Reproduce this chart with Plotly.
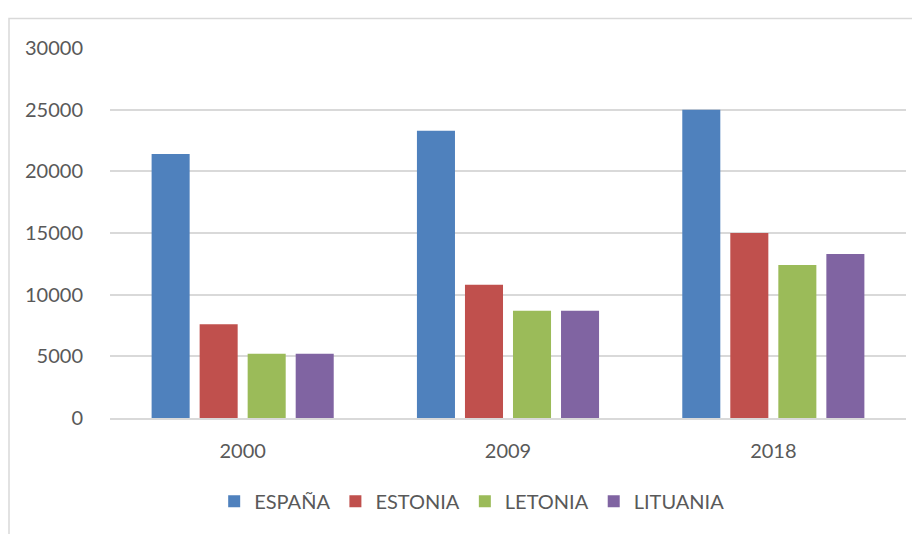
import plotly.graph_objects as go

years = ["2000", "2009", "2018"]
series_names = ["ESPAÑA", "ESTONIA", "LETONIA", "LITUANIA"]
espana = [21400, 23300, 25000]
estonia = [7600, 10800, 15000]
letonia = [5200, 8700, 12400]
lituania = [5200, 8700, 13300]
colors = ["#4F81BD", "#C0504D", "#9BBB59", "#8064A2"]
y_ticks = [0, 5000, 10000, 15000, 20000, 25000, 30000]

fig = go.Figure()
for name, vals, col in zip(series_names, [espana, estonia, letonia, lituania], colors):
    fig.add_trace(go.Bar(
        x=years, y=vals, name=name,
        marker=dict(color=col, line=dict(width=0)),
    ))

font_family = "Lato, 'Open Sans', sans-serif"
fig.update_layout(
    width=920, height=534,
    margin=dict(l=102, r=22, t=40, b=124, pad=0),
    paper_bgcolor="white", plot_bgcolor="white",
    barmode="group", bargap=0.276, bargroupgap=0.208,
    font=dict(family=font_family, size=20, color="#595959"),
    showlegend=True,
    legend=dict(orientation="h", x=0.455, xanchor="center", y=-0.225, yanchor="middle",
                font=dict(size=20, color="#595959"), itemwidth=30,
                traceorder="normal", bgcolor="rgba(0,0,0,0)"),
    xaxis=dict(showgrid=False, showline=True, linecolor="#d9d9d9", linewidth=1.5,
               ticks="outside", ticklen=14, tickcolor="rgba(0,0,0,0)",
               tickfont=dict(size=20, color="#595959"), fixedrange=True),
    yaxis=dict(range=[0, 30000], tickvals=y_ticks, ticktext=[str(v) for v in y_ticks],
               showgrid=True, gridcolor="#d9d9d9", gridwidth=1.5, zeroline=False,
               showline=False, ticks="outside", ticklen=22, tickcolor="rgba(0,0,0,0)",
               tickfont=dict(size=20, color="#595959"), fixedrange=True),
    shapes=[dict(type="rect", xref="paper", yref="paper",
                 x0=(9 - 110) / 796, x1=1.2, y0=-1.0, y1=(418 - 18.5) / 370,
                 line=dict(color="#d9d9d9", width=1.5), fillcolor="rgba(0,0,0,0)",
                 layer="below")],
)

fig.write_html("out.html")
